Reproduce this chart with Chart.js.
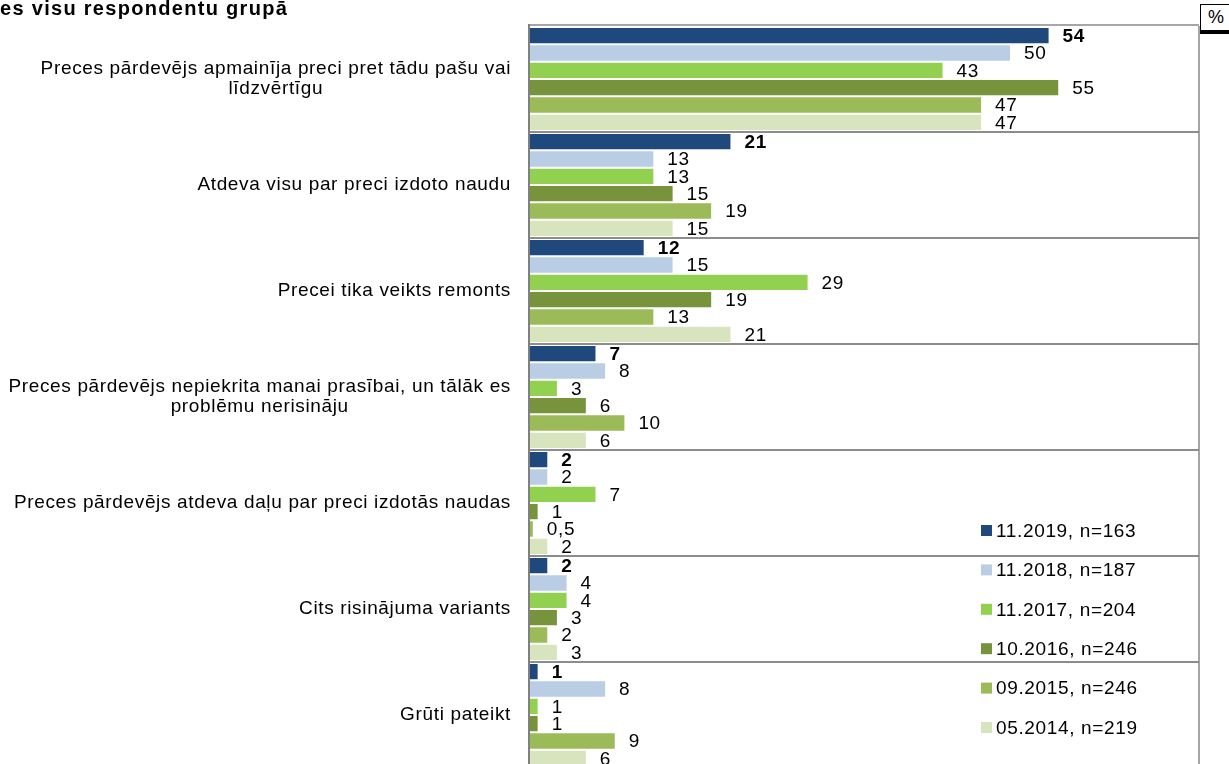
<!DOCTYPE html>
<html>
<head>
<meta charset="utf-8">
<script src="https://cdn.jsdelivr.net/npm/chart.js@4"></script>
<style>
  html, body { margin: 0; padding: 0; background: #fff; overflow: hidden; }
  #wrap { position: absolute; left: 0; top: 0; width: 1229px; height: 770px; }
  #title { position: absolute; left: 0; top: -3px; font: bold 20px "Liberation Sans", Arial, sans-serif; letter-spacing: 1.3px; color: #000; white-space: nowrap; }
  #pct { position: absolute; left: 1200px; top: 4px; width: 40px; height: 25px; border: 1px solid #000; border-bottom: 4px solid #000;
         font: 18px "Liberation Sans", Arial, sans-serif; padding-left: 7px; line-height: 24px; background: #fff; box-sizing: content-box; }
</style>
</head>
<body>
<div id="wrap"><canvas id="chart" width="1229" height="770"></canvas></div>
<div id="title">es visu respondentu grupā</div>
<div id="pct">%</div>
<script>
// categories (multi-line labels)
const categories = [
  ["Preces pārdevējs apmainīja preci pret tādu pašu vai", "līdzvērtīgu"],
  ["Atdeva visu par preci izdoto naudu"],
  ["Precei tika veikts remonts"],
  ["Preces pārdevējs nepiekrita manai prasībai, un tālāk es", "problēmu nerisināju"],
  ["Preces pārdevējs atdeva daļu par preci izdotās naudas"],
  ["Cits risinājuma variants"],
  ["Grūti pateikt"]
];

const seriesNames = ["11.2019, n=163", "11.2018, n=187", "11.2017, n=204", "10.2016, n=246", "09.2015, n=246", "05.2014, n=219"];
const seriesColors = ["#1F497D", "#B9CDE5", "#92D050", "#77933C", "#9BBB59", "#D7E4BD"];

const s2019 = [54, 21, 12, 7, 2, 2, 1];
const s2018 = [50, 13, 15, 8, 2, 4, 8];
const s2017 = [43, 13, 29, 3, 7, 4, 1];
const s2016 = [55, 15, 19, 6, 1, 3, 1];
const s2015 = [47, 19, 13, 10, 0.5, 2, 9];
const s2014 = [47, 15, 21, 6, 2, 3, 6];
const seriesValues = [s2019, s2018, s2017, s2016, s2015, s2014];

const FONT = '"Liberation Sans", Arial, sans-serif';
const SPACING = '0.65px';

const overlay = {
  id: 'overlay',
  afterDatasetsDraw(chart) {
    const ctx = chart.ctx;
    const a = chart.chartArea;
    const y = chart.scales.y;
    ctx.save();

    // frame
    ctx.strokeStyle = '#a6a6a6';
    ctx.lineWidth = 2;
    ctx.beginPath();
    ctx.moveTo(a.left, a.top - 1); ctx.lineTo(a.right, a.top - 1);
    ctx.moveTo(a.right, a.top); ctx.lineTo(a.right, a.bottom + 4);
    ctx.stroke();
    ctx.strokeStyle = '#8c8c8c';
    ctx.beginPath();
    for (let i = 1; i < categories.length; i++) {
      const p = (y.getPixelForTick(i - 1) + y.getPixelForTick(i)) / 2;
      ctx.moveTo(a.left, p); ctx.lineTo(a.right, p);
    }
    ctx.stroke();
    ctx.strokeStyle = '#808080';
    ctx.beginPath();
    ctx.moveTo(a.left, a.top - 2); ctx.lineTo(a.left, a.bottom + 4);
    ctx.stroke();

    ctx.letterSpacing = SPACING;

    // value labels
    ctx.fillStyle = '#000';
    ctx.textBaseline = 'middle';
    ctx.textAlign = 'left';
    chart.data.datasets.forEach((ds, di) => {
      const meta = chart.getDatasetMeta(di);
      ctx.font = (di === 0 ? 'bold ' : '') + '19px ' + FONT;
      meta.data.forEach((bar, i) => {
        const txt = String(ds.data[i]).replace('.', ',');
        ctx.fillText(txt, bar.x + 13, bar.y + 1);
      });
    });

    // category labels: block right-aligned, lines centred
    ctx.font = '19px ' + FONT;
    ctx.textAlign = 'center';
    categories.forEach((lines, i) => {
      const w = Math.max(...lines.map(l => ctx.measureText(l).width));
      const cx = 511 - w / 2;
      const cy = y.getPixelForTick(i);
      const lh = 20;
      lines.forEach((l, j) => {
        ctx.fillText(l, cx, cy + (j - (lines.length - 1) / 2) * lh);
      });
    });

    // legend
    ctx.textAlign = 'left';
    ctx.font = '19px ' + FONT;
    seriesNames.forEach((n, i) => {
      const ly = 530.5 + i * 39.4;
      ctx.fillStyle = seriesColors[i];
      ctx.fillRect(981, ly - 5.5, 11, 11);
      ctx.fillStyle = '#000';
      ctx.fillText(n, 996, ly + 1);
    });
    ctx.restore();
  }
};

new Chart(document.getElementById('chart'), {
  type: 'bar',
  data: {
    labels: categories,
    datasets: seriesNames.map((n, i) => ({
      label: n,
      data: seriesValues[i],
      backgroundColor: seriesColors[i],
      borderColor: 'rgba(255,255,255,0.5)',
      borderWidth: 1,
      categoryPercentage: 0.98,
      barPercentage: 1
    }))
  },
  options: {
    indexAxis: 'y',
    responsive: false,
    animation: false,
    layout: { padding: { left: 529, right: 30, top: 26, bottom: 2 } },
    scales: {
      x: { display: false, min: 0, max: 69.5 },
      y: { display: false }
    },
    plugins: {
      legend: { display: false },
      tooltip: { enabled: false }
    }
  },
  plugins: [overlay]
});
</script>
</body>
</html>
